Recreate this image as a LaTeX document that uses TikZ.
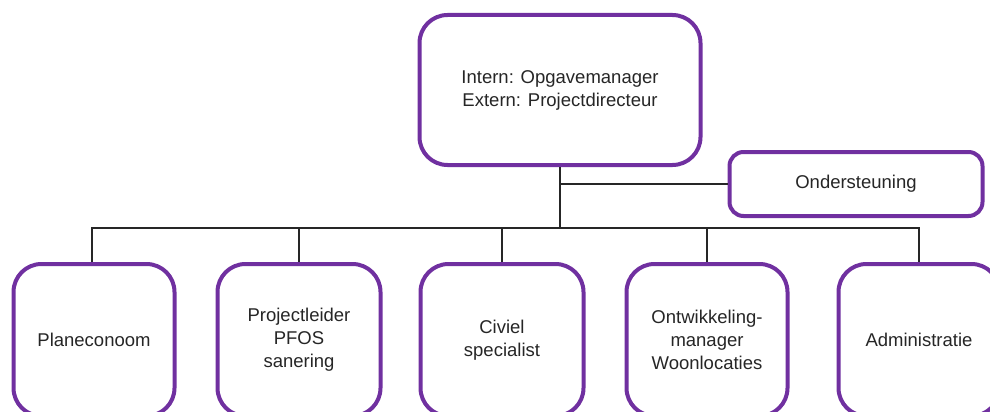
\documentclass[tikz,border=0pt]{standalone}
\usepackage{fontspec}
\setmainfont{Liberation Sans}
\definecolor{boxpurple}{HTML}{7030A0}
\definecolor{txtgray}{HTML}{262626}
\begin{document}
\begin{tikzpicture}[x=1pt,y=-1pt,
  orgbox/.style={draw=boxpurple, line width=4pt, rounded corners=#1, fill=white,
    text=txtgray, align=center, font=\fontsize{18.5}{23}\selectfont, inner sep=0pt},
  orgbox/.default=28pt,
  conn/.style={draw=black!85, line width=1.3pt}]
\useasboundingbox (0,0) rectangle (990,412);
\clip (0,0) rectangle (990,412);
\node[orgbox, minimum width=281pt, minimum height=150pt] (top) at (560,90) {Intern: Opgavemanager\\Extern: Projectdirecteur};
\node[orgbox=14pt, minimum width=253pt, minimum height=64pt] (ond) at (856,184) {Ondersteuning};
\node[orgbox, minimum width=161pt, minimum height=152pt] (p1) at (94,340) {Planeconoom};
\node[orgbox, minimum width=163pt, minimum height=152pt] (p2) at (299,340) {Projectleider\\PFOS\\sanering};
\node[orgbox, minimum width=163pt, minimum height=152pt] (p3) at (502,340) {Civiel\\specialist};
\node[orgbox, minimum width=161pt, minimum height=152pt] (p4) at (707,340) {Ontwikkeling-\\manager\\Woonlocaties};
\node[orgbox, minimum width=161pt, minimum height=152pt] (p5) at (919,340) {Administratie};
\coordinate (j1) at (560,184);
\coordinate (bus) at (560,228);
\draw[conn] (top.south) -- (bus);
\draw[conn] (j1) -- (ond.west);
\draw[conn] (p1.north -| 92,0) -- (92,228) -- (919,228) -- (p5.north);
\draw[conn] (p2.north) -- (p2.north |- bus);
\draw[conn] (p3.north) -- (p3.north |- bus);
\draw[conn] (p4.north) -- (p4.north |- bus);
\end{tikzpicture}
\end{document}
